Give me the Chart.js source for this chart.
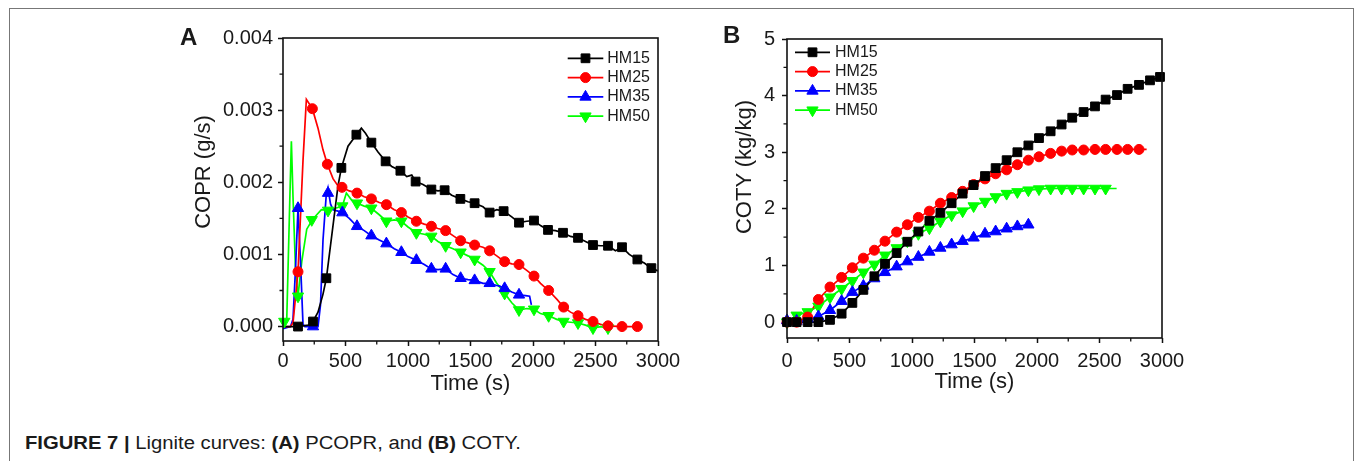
<!DOCTYPE html>
<html>
<head>
<meta charset="utf-8">
<script src="https://cdn.jsdelivr.net/npm/chart.js@4.4.0/dist/chart.umd.min.js"></script>
<style>
    body { margin: 0; width: 1355px; height: 461px; background: #fff; overflow: hidden; position: relative;
           font-family: "Liberation Sans", Arial, sans-serif; color: #1a1a1a; }
    #frame { position: absolute; left: 9px; top: 8px; width: 1343px; height: 480px; border: 1px solid #777; }
    .box { position: absolute; }
    #boxA { left: 170px; top: 20px; }
    #boxB { left: 720px; top: 20px; }
    .letter { position: absolute; font-weight: bold; font-size: 24px; line-height: 24px; }
    .ytitle { position: absolute; font-size: 22px; line-height: 22px; white-space: nowrap;
              transform: translate(-50%, -50%) rotate(-90deg); }
    #caption { position: absolute; left: 25px; top: 434px; font-size: 18px; line-height: 18px;
               white-space: nowrap; transform-origin: 0 0; }
</style>
</head>
<body>
<div id="frame"></div>
<div class="box" id="boxA"><canvas id="chartA" width="530" height="380"></canvas></div>
<div class="box" id="boxB"><canvas id="chartB" width="500" height="380"></canvas></div>
<div class="letter" style="left:180px; top:25px;">A</div>
<div class="letter" style="left:723px; top:23px;">B</div>
<div class="ytitle" style="left:203px; top:172px;">COPR (g/s)</div>
<div class="ytitle" style="left:744px; top:167px;">COTY (kg/kg)</div>
<div id="caption"><b>FIGURE 7 |</b> Lignite curves: <b>(A)</b> PCOPR, and <b>(B)</b> COTY.</div>

<script>
// ---- Panel A : COPR (g/s) vs time (s) ----
// lines (dense) and marker points
const a15T = [0, 120, 200, 240, 280, 320, 347, 400, 440, 467, 520, 587, 627, 660, 707, 760, 821, 870, 939, 990, 1030, 1061, 1120, 1187, 1240, 1293, 1350, 1419, 1480, 1533, 1600, 1653, 1710, 1765, 1830, 1888, 1950, 2008, 2060, 2120, 2180, 2240, 2300, 2360, 2420, 2480, 2540, 2600, 2660, 2712, 2770, 2835, 2890, 2947, 3000];
const a15V = [0, 0, 0.00002, 0.00007, 0.0002, 0.00045, 0.00067, 0.0014, 0.00195, 0.0022, 0.0025, 0.00266, 0.00275, 0.00268, 0.00255, 0.00242, 0.00229, 0.00222, 0.00216, 0.00208, 0.0021, 0.00201, 0.00197, 0.0019, 0.00188, 0.00189, 0.00182, 0.00177, 0.00173, 0.00171, 0.00166, 0.00158, 0.00162, 0.0016, 0.00152, 0.00144, 0.00146, 0.00147, 0.0014, 0.00134, 0.00133, 0.0013, 0.00125, 0.00123, 0.00118, 0.00113, 0.00112, 0.00112, 0.00105, 0.0011, 0.001, 0.00093, 0.00088, 0.00081, 0.00077];
const a15MT = [120, 240, 347, 467, 587, 707, 821, 939, 1061, 1187, 1293, 1419, 1533, 1653, 1765, 1888, 2008, 2120, 2240, 2360, 2480, 2600, 2712, 2835, 2947];
const a15MV = [0, 0.00007, 0.00067, 0.0022, 0.00266, 0.00255, 0.00229, 0.00216, 0.00201, 0.0019, 0.00189, 0.00177, 0.00171, 0.00158, 0.0016, 0.00144, 0.00147, 0.00134, 0.0013, 0.00123, 0.00113, 0.00112, 0.0011, 0.00093, 0.00081];

const a25T = [0, 60, 80, 120, 160, 187, 235, 280, 320, 355, 400, 440, 472, 530, 592, 650, 707, 770, 827, 890, 947, 1000, 1067, 1130, 1187, 1240, 1301, 1360, 1421, 1480, 1533, 1600, 1653, 1710, 1773, 1830, 1888, 1950, 2008, 2060, 2125, 2190, 2245, 2300, 2360, 2420, 2480, 2540, 2600, 2712, 2835, 2870];
const a25V = [0, 0, 0.00005, 0.00076, 0.0023, 0.00315, 0.00302, 0.00275, 0.00245, 0.00225, 0.00205, 0.00195, 0.00193, 0.00188, 0.00185, 0.0018, 0.00177, 0.00172, 0.00169, 0.00162, 0.00158, 0.00152, 0.00146, 0.00142, 0.00139, 0.00136, 0.00133, 0.00126, 0.00119, 0.00116, 0.00113, 0.0011, 0.00105, 0.00098, 0.0009, 0.00087, 0.00086, 0.00078, 0.0007, 0.0006, 0.0005, 0.00038, 0.00027, 0.0002, 0.00015, 0.0001, 0.00007, 0.00003, 0.00001, 0, 0, 0];
const a25MT = [120, 235, 355, 472, 592, 707, 827, 947, 1067, 1187, 1301, 1421, 1533, 1653, 1773, 1888, 2008, 2125, 2245, 2360, 2480, 2600, 2712, 2835];
const a25MV = [0.00076, 0.00302, 0.00225, 0.00193, 0.00185, 0.00177, 0.00169, 0.00158, 0.00146, 0.00139, 0.00133, 0.00119, 0.00113, 0.00105, 0.0009, 0.00086, 0.0007, 0.0005, 0.00027, 0.00015, 0.00007, 0.00001, 0, 0];

const a35T = [0, 60, 80, 100, 120, 140, 160, 175, 240, 280, 300, 320, 345, 360, 380, 400, 440, 475, 530, 592, 650, 707, 770, 827, 890, 947, 1000, 1067, 1130, 1187, 1240, 1301, 1360, 1421, 1480, 1533, 1600, 1653, 1710, 1733, 1773, 1830, 1888, 1940, 1973, 1987];
const a35V = [-0.00003, 0, 0.0001, 0.0008, 0.00164, 0.0009, 0.00003, 0, 0, 0, 0.0003, 0.0012, 0.0018, 0.00192, 0.0017, 0.00162, 0.0016, 0.00158, 0.0015, 0.00139, 0.00133, 0.00126, 0.0012, 0.00115, 0.00108, 0.00103, 0.00097, 0.00092, 0.00086, 0.0008, 0.00079, 0.0008, 0.00072, 0.00067, 0.00065, 0.00064, 0.0006, 0.0006, 0.00057, 0.00056, 0.00053, 0.00048, 0.00044, 0.00043, 0.00042, 0.0003];
const a35MT = [120, 240, 360, 475, 592, 707, 827, 947, 1067, 1187, 1301, 1421, 1533, 1653, 1773, 1888];
const a35MV = [0.00164, 0, 0.00185, 0.00158, 0.00139, 0.00126, 0.00115, 0.00103, 0.00092, 0.0008, 0.0008, 0.00067, 0.00064, 0.0006, 0.00053, 0.00044];

const a50T = [0, 30, 55, 67, 80, 100, 120, 150, 190, 235, 270, 307, 360, 420, 475, 507, 550, 592, 650, 707, 770, 827, 890, 947, 1000, 1067, 1130, 1187, 1240, 1301, 1360, 1421, 1480, 1533, 1600, 1653, 1710, 1773, 1830, 1888, 1950, 2008, 2060, 2125, 2190, 2245, 2300, 2360, 2420, 2480, 2540, 2600, 2620];
const a50V = [0.00005, 0.0001, 0.0018, 0.00257, 0.0018, 0.0008, 0.00042, 0.0009, 0.00135, 0.00148, 0.00155, 0.00162, 0.00161, 0.00164, 0.00167, 0.00185, 0.00175, 0.00171, 0.00167, 0.00164, 0.00155, 0.00146, 0.00148, 0.00146, 0.00138, 0.0013, 0.00128, 0.00125, 0.00118, 0.00112, 0.00108, 0.00103, 0.00098, 0.00093, 0.00085, 0.00076, 0.0006, 0.00046, 0.00033, 0.00023, 0.00025, 0.00024, 0.00018, 0.00015, 0.0001, 0.00007, 0.00006, 0.00005, 0.00002, -0.00002, 0, -0.00002, -0.00002];
const a50MT = [10, 120, 230, 360, 475, 592, 707, 827, 947, 1067, 1187, 1301, 1421, 1533, 1653, 1773, 1888, 2008, 2125, 2245, 2360, 2480, 2600];
const a50MV = [0.00007, 0.00042, 0.00148, 0.00161, 0.00167, 0.00171, 0.00164, 0.00146, 0.00146, 0.0013, 0.00125, 0.00112, 0.00103, 0.00093, 0.00076, 0.00046, 0.00023, 0.00024, 0.00015, 0.00007, 0.00005, -0.00002, -0.00002];

// ---- Panel B : COTY (kg/kg) vs time (s) ----
const b15T = [0, 77, 165, 251, 344, 437, 523, 611, 699, 784, 877, 963, 1051, 1139, 1227, 1317, 1405, 1493, 1584, 1669, 1757, 1843, 1931, 2016, 2109, 2197, 2282, 2373, 2464, 2549, 2640, 2725, 2816, 2904, 2984];
const b15V = [0, 0, 0, 0, 0.04, 0.15, 0.34, 0.57, 0.81, 1.03, 1.22, 1.42, 1.6, 1.79, 1.93, 2.1, 2.27, 2.42, 2.58, 2.72, 2.86, 3.0, 3.12, 3.25, 3.37, 3.49, 3.61, 3.71, 3.81, 3.93, 4.01, 4.12, 4.19, 4.27, 4.33];

const b25T = [0, 77, 165, 251, 344, 437, 523, 611, 699, 784, 877, 963, 1051, 1139, 1227, 1317, 1405, 1493, 1584, 1669, 1757, 1843, 1931, 2016, 2109, 2197, 2282, 2373, 2464, 2549, 2640, 2725, 2816];
const b25V = [0, 0, 0.09, 0.4, 0.62, 0.79, 0.96, 1.13, 1.27, 1.43, 1.59, 1.72, 1.85, 1.96, 2.1, 2.2, 2.31, 2.43, 2.53, 2.62, 2.69, 2.78, 2.86, 2.92, 2.98, 3.02, 3.04, 3.04, 3.05, 3.05, 3.05, 3.05, 3.05];
const b25End = [2877, 3.05];

const b35T = [0, 77, 165, 251, 344, 437, 523, 611, 699, 784, 877, 963, 1051, 1139, 1227, 1317, 1405, 1493, 1584, 1669, 1757, 1843, 1931];
const b35V = [0.03, 0.02, 0.06, 0.1, 0.21, 0.37, 0.53, 0.64, 0.77, 0.88, 0.98, 1.07, 1.15, 1.24, 1.31, 1.37, 1.43, 1.49, 1.56, 1.6, 1.65, 1.69, 1.72];
const b35End = [1965, 1.68];

const b50T = [0, 77, 165, 251, 344, 437, 523, 611, 699, 784, 877, 963, 1051, 1139, 1227, 1317, 1405, 1493, 1584, 1669, 1757, 1843, 1931, 2016, 2109, 2197, 2282, 2373, 2464, 2549];
const b50V = [0, 0.12, 0.18, 0.28, 0.44, 0.59, 0.73, 0.88, 1.02, 1.18, 1.31, 1.43, 1.56, 1.66, 1.78, 1.89, 1.96, 2.05, 2.13, 2.21, 2.27, 2.3, 2.33, 2.35, 2.36, 2.36, 2.36, 2.36, 2.36, 2.36];
const b50End = [2637, 2.36];

// tick labels
const timeTicks = [0, 500, 1000, 1500, 2000, 2500, 3000];
const coprTicks = [0, 0.001, 0.002, 0.003, 0.004];
const cotyTicks = [0, 1, 2, 3, 4, 5];

// series look
const styles = {
    HM15: { color: "#000000", pointStyle: "rect", radius: 6.2, rotation: 0 },
    HM25: { color: "#ff0000", pointStyle: "circle", radius: 5, rotation: 0 },
    HM35: { color: "#0000ff", pointStyle: "triangle", radius: 6.5, rotation: 0 },
    HM50: { color: "#00ff00", pointStyle: "triangle", radius: 6.5, rotation: 180 },
};

Chart.defaults.font.family = '"Liberation Sans", Arial, sans-serif';
Chart.defaults.color = "#1a1a1a";

function pts(t, v) {
    return t.map((x, i) => ({ x, y: v[i] }));
}

// one line dataset (no points) + one marker dataset per series
function seriesSets(name, lineT, lineV, markT, markV) {
    const s = styles[name];
    return [
        {
            label: name, data: pts(lineT, lineV), borderColor: s.color, borderWidth: 1.7,
            pointRadius: 0, tension: 0, order: 2,
        },
        {
            label: name + " marks", data: pts(markT, markV), showLine: false, clip: false,
            pointStyle: s.pointStyle, pointRadius: s.radius, pointRotation: s.rotation,
            backgroundColor: s.color, borderColor: s.color, borderWidth: 1, order: 1,
        },
    ];
}

// frame around the plot + short minor ticks halfway between majors
const frameMinor = {
    id: "frameMinor",
    afterDatasetsDraw(chart) {
        const { ctx, chartArea: a, scales: { x, y } } = chart;
        ctx.save();
        ctx.strokeStyle = "#111";
        ctx.lineWidth = 1.6;
        ctx.strokeRect(a.left, a.top, a.right - a.left, a.bottom - a.top);
        ctx.beginPath();
        ctx.lineWidth = 1.3;
        x.ticks.slice(1).forEach((t, i) => {
            const px = x.getPixelForValue((t.value + x.ticks[i].value) / 2);
            ctx.moveTo(px, a.bottom); ctx.lineTo(px, a.bottom + 3.5);
        });
        y.ticks.slice(1).forEach((t, i) => {
            const py = y.getPixelForValue((t.value + y.ticks[i].value) / 2);
            ctx.moveTo(a.left, py); ctx.lineTo(a.left - 3.5, py);
        });
        ctx.stroke();
        ctx.restore();
    },
};

// legend with a short line and the marker in its middle
const lineLegend = {
    id: "lineLegend",
    afterDraw(chart, args, o) {
        const ctx = chart.ctx;
        ctx.save();
        ctx.font = '16px "Liberation Sans", Arial, sans-serif';
        ctx.textBaseline = "middle";
        Object.keys(styles).forEach((name, i) => {
            const s = styles[name];
            const yy = o.y + i * o.gap;
            ctx.strokeStyle = s.color;
            ctx.fillStyle = s.color;
            ctx.lineWidth = 1.7;
            ctx.beginPath();
            ctx.moveTo(o.x, yy);
            ctx.lineTo(o.x + o.len, yy);
            ctx.stroke();
            ctx.lineWidth = 1;
            Chart.helpers.drawPoint(ctx, { pointStyle: s.pointStyle, radius: s.radius, rotation: s.rotation, borderWidth: 1 }, o.x + o.len / 2, yy);
            ctx.fillStyle = "#1a1a1a";
            ctx.fillText(name, o.x + o.len + o.textGap, yy);
        });
        ctx.restore();
    },
};

function makeChart(id, datasets, p) {
    const tickFont = { size: 20 };
    new Chart(document.getElementById(id), {
        type: "line",
        data: { datasets },
        options: {
            responsive: false,
            animation: false,
            events: [],
            layout: { padding: { top: p.padTop, right: p.padRight, left: 0, bottom: 0 } },
            plugins: { legend: { display: false }, tooltip: { enabled: false }, lineLegend: p.legend },
            scales: {
                x: {
                    type: "linear", min: 0, max: 3000,
                    afterBuildTicks: (s) => { s.ticks = timeTicks.map((v) => ({ value: v })); },
                    afterFit: (s) => { s.height = p.xHeight; },
                    ticks: { font: tickFont, padding: p.xPad, maxRotation: 0, callback: (v) => String(v) },
                    grid: { drawOnChartArea: false, drawTicks: true, tickLength: 5, tickColor: "#111", tickWidth: 1.5 },
                    border: { display: false },
                    title: { display: true, text: "Time (s)", font: { size: 22 }, padding: { top: 0, bottom: p.xTitlePad } },
                },
                y: {
                    type: "linear", min: p.yMin, max: p.yMax,
                    afterBuildTicks: (s) => { s.ticks = p.yTicks.map((v) => ({ value: v })); },
                    afterFit: (s) => { s.width = p.yWidth; },
                    ticks: { font: tickFont, padding: p.yPad, callback: p.yFmt },
                    grid: { drawOnChartArea: false, drawTicks: true, tickLength: 5, tickColor: "#111", tickWidth: 1.5 },
                    border: { display: false },
                },
            },
        },
        plugins: [frameMinor, lineLegend],
    });
}

makeChart("chartA", [
    ...seriesSets("HM15", a15T, a15V, a15MT, a15MV),
    ...seriesSets("HM25", a25T, a25V, a25MT, a25MV),
    ...seriesSets("HM35", a35T, a35V, a35MT, a35MV),
    ...seriesSets("HM50", a50T, a50V, a50MT, a50MV),
], {
    padTop: 18, padRight: 42, xHeight: 59, yWidth: 113, xPad: 3, yPad: 5, xTitlePad: 3,
    yMin: -0.0002, yMax: 0.004, yTicks: coprTicks, yFmt: (v) => v.toFixed(3),
    legend: { x: 397.7, y: 38.3, gap: 19.3, len: 35.6, textGap: 4 },
});

makeChart("chartB", [
    ...seriesSets("HM15", b15T, b15V, b15T, b15V),
    ...seriesSets("HM25", [...b25T, b25End[0]], [...b25V, b25End[1]], b25T, b25V),
    ...seriesSets("HM35", [...b35T, b35End[0]], [...b35V, b35End[1]], b35T, b35V),
    ...seriesSets("HM50", [...b50T, b50End[0]], [...b50V, b50End[1]], b50T, b50V),
], {
    padTop: 15, padRight: 58, xHeight: 62, yWidth: 67, xPad: 6, yPad: 7, xTitlePad: 5,
    yMin: -0.28, yMax: 5, yTicks: cotyTicks, yFmt: (v) => String(v),
    legend: { x: 75, y: 32.3, gap: 19.3, len: 35, textGap: 5 },
});

// squeeze the caption to the narrow width it has in the figure
const cap = document.getElementById("caption");
cap.style.transform = `scaleX(${496 / cap.scrollWidth})`;
</script>
</body>
</html>
